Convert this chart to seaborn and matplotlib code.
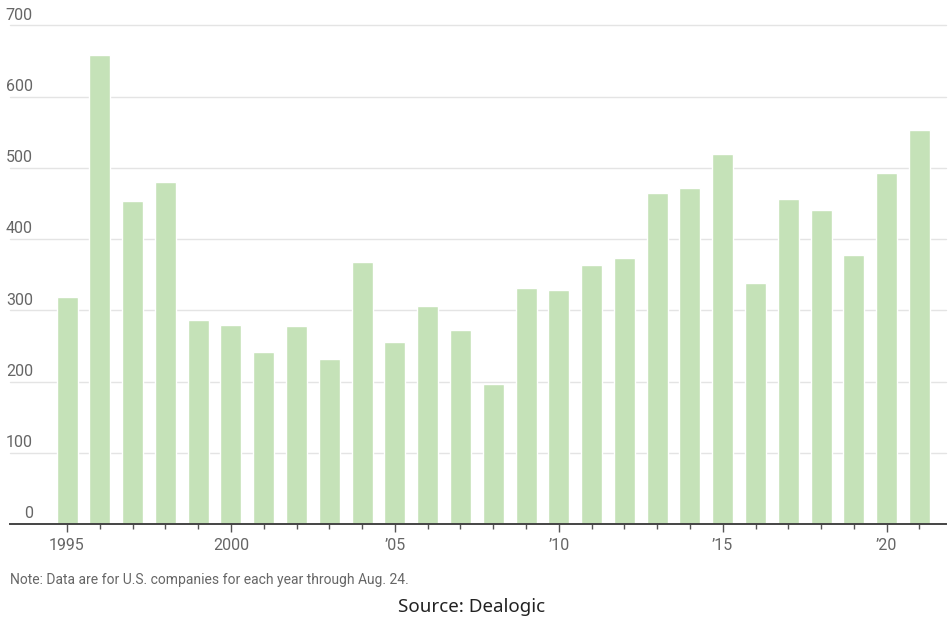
import matplotlib
matplotlib.use("Agg")
import matplotlib.pyplot as plt
import matplotlib.transforms as mtransforms
import seaborn as sns
import pandas as pd

years = list(range(1995, 2022))
values = [318, 659, 454, 480, 286, 280, 242, 278, 231, 368,
          255, 306, 273, 196, 331, 328, 364, 374, 465, 472,
          520, 339, 456, 441, 377, 493, 553]
label_years = [1995, 2000, 2005, 2010, 2015, 2020]
label_texts = ["1995", "2000", "\u201905", "\u201910", "\u201915", "\u201920"]
yticks = [0, 100, 200, 300, 400, 500, 600, 700]
note_text = "Note: Data are for U.S. companies for each year through Aug. 24."
source_text = "Source: Dealogic"

sns.set_theme(style="white")
plt.rcParams['font.family'] = ['Roboto', 'DejaVu Sans']

df = pd.DataFrame({"year": [str(y) for y in years], "deals": values})

fig = plt.figure(figsize=(9.48, 6.2), dpi=100)
W, H = 948, 620
ax = fig.add_axes([10 / W, (H - 524) / H, (946 - 10) / W, (524 - 25.4) / H])

sns.barplot(data=df, x="year", y="deals", color="#c5e2b8", saturation=1,
            width=0.64, ax=ax, zorder=2)

ax.set_xlim(-1.74, 26.81)
ax.set_ylim(0, 700)
ax.set_xlabel("")
ax.set_ylabel("")

# grid lines
for yv in yticks[1:]:
    ax.axhline(yv, color="#e4e4e4", lw=1, zorder=1, clip_on=False)

# y labels above gridlines
trans = mtransforms.blended_transform_factory(fig.transFigure, ax.transData)
off = mtransforms.ScaledTranslation(0, 2 / 72, fig.dpi_scale_trans)
for yv in yticks:
    ax.text(33 / W, yv, str(yv), transform=trans + off, ha="right", va="bottom",
            fontsize=11.5, color="#666666")
ax.set_yticks([])

# x ticks
idx_labels = [years.index(y) for y in label_years]
ax.set_xticks(idx_labels)
ax.set_xticklabels(label_texts)
ax.set_xticks(list(range(len(years))), minor=True)
ax.tick_params(axis="x", which="major", length=6, width=1, color="#555555",
               labelsize=11.5, labelcolor="#666666", pad=4, bottom=True)
ax.tick_params(axis="x", which="minor", length=3.5, width=1, color="#555555", bottom=True)

for s in ["top", "right", "left"]:
    ax.spines[s].set_visible(False)
ax.spines["bottom"].set_color("#444444")
ax.spines["bottom"].set_linewidth(1.4)

fig.text(10 / W, 1 - 580 / H, note_text, ha="left", va="center",
         fontsize=10, color="#666666")
fig.text(472 / W, 1 - 607 / H, source_text, ha="center", va="center",
         fontsize=13.5, color="#222222", family=["Noto Sans", "DejaVu Sans"])

fig.savefig("out.png", dpi=100)
